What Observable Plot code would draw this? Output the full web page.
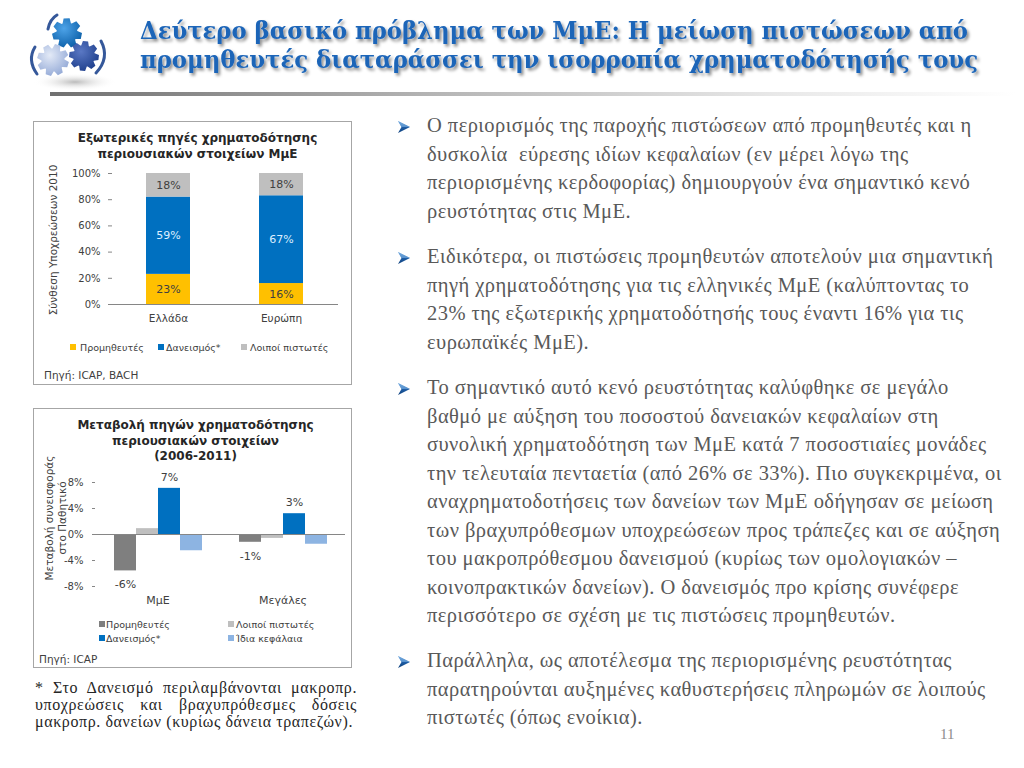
<!DOCTYPE html>
<html><head><meta charset="utf-8">
<script src="https://cdn.jsdelivr.net/npm/d3@7"></script>
<script src="https://cdn.jsdelivr.net/npm/@observablehq/plot@0.6"></script>
<style>
  html,body{margin:0;padding:0;background:#fff;}
  body{width:1024px;height:768px;position:relative;overflow:hidden;font-family:"DejaVu Sans",sans-serif;}
  .abs{position:absolute;}
  .box{position:absolute;border:1px solid #A6A6A6;box-sizing:border-box;background:#fff;}
  .ctitle{position:absolute;text-align:center;font:bold 12px "DejaVu Sans";color:#262626;line-height:15.5px;}
  .leg{position:absolute;font:9.5px "DejaVu Sans";color:#404040;white-space:nowrap;transform:translateY(-50%);}
  .sw{position:absolute;width:6px;height:6px;transform:translateY(-50%);}
  .src{position:absolute;font:10.5px "DejaVu Sans";color:#404040;transform:translateY(-50%);white-space:nowrap;}
  .ytitle{position:absolute;font:10.5px "DejaVu Sans";color:#404040;text-align:center;white-space:nowrap;line-height:12.5px;transform:translate(-50%,-50%) rotate(-90deg);}
  .para{position:absolute;left:427px;font:20.5px "Liberation Serif",serif;letter-spacing:0.45px;color:#595959;line-height:28.5px;white-space:pre;}
  .bul{position:absolute;left:397px;width:14px;height:14px;}
  .foot{position:absolute;left:35px;width:322px;font:16px "Liberation Serif",serif;letter-spacing:0.6px;color:#262626;line-height:17px;}
  .foot div{text-align:justify;text-align-last:justify;white-space:nowrap;}
  .foot div.last{text-align-last:left;}
</style>
</head><body>
<script>
// ---------- Chart 1 data: composition of liabilities 2010 ----------
const countries = ["Ελλάδα", "Ευρώπη"];
const sources1 = ["Προμηθευτές", "Δανεισμός*", "Λοιποί πιστωτές"];
const greeceShares = [23, 59, 18];
const europeShares = [16, 67, 18];
const yTicks1 = [0, 20, 40, 60, 80, 100];

// ---------- Chart 2 data: change in contribution 2006-2011 ----------
const groups2 = ["ΜμΕ", "Μεγάλες"];
const sources2 = ["Προμηθευτές", "Λοιποί πιστωτές", "Δανεισμός*", "Ίδια κεφάλαια"];
const smeChange = [-5.6, 0.9, 7.1, -2.5];
const largeChange = [-1.2, -0.6, 3.2, -1.5];
const labelledSources2 = ["Προμηθευτές", "Δανεισμός*"];
const yTicks2 = [-8, -4, 0, 4, 8];

// ---------- styles ----------
const colors1 = {"Προμηθευτές": "#FFC000", "Δανεισμός*": "#0070C0", "Λοιποί πιστωτές": "#BFBFBF"};
const colors2 = {"Προμηθευτές": "#7F7F7F", "Λοιποί πιστωτές": "#BFBFBF", "Δανεισμός*": "#0070C0", "Ίδια κεφάλαια": "#8DB4E2"};
const axisGrey = "#868686";
const textDark = "#404040";

const data1 = countries.flatMap((c, i) => sources1.map((s, j) => ({country: c, source: s, value: [greeceShares, europeShares][i][j]})));
const data2 = groups2.flatMap((g, i) => sources2.map((s, j) => ({group: g, source: s, value: [smeChange, largeChange][i][j]})));

const body = document.body;
function el(tag, cls, css, html) {
  const e = document.createElement(tag);
  if (cls) e.className = cls;
  if (css) Object.assign(e.style, css);
  if (html != null) e.innerHTML = html;
  body.appendChild(e);
  return e;
}

// ---------- Header: logo, title, rule ----------
function gearPath(cx, cy, ro, ri, n, rot) {
  const pts = [];
  for (let k = 0; k < n; k++) {
    const a = rot + (k / n) * 2 * Math.PI, w = Math.PI / n;
    pts.push([cx + ri * Math.cos(a - w * 0.9), cy + ri * Math.sin(a - w * 0.9)]);
    pts.push([cx + ro * Math.cos(a - w * 0.45), cy + ro * Math.sin(a - w * 0.45)]);
    pts.push([cx + ro * Math.cos(a + w * 0.45), cy + ro * Math.sin(a + w * 0.45)]);
    pts.push([cx + ri * Math.cos(a + w * 0.9), cy + ri * Math.sin(a + w * 0.9)]);
  }
  return "M" + pts.map(p => p.map(v => v.toFixed(1)).join(",")).join("L") + "Z";
}
const header = `
<svg width="1024" height="100" xmlns="http://www.w3.org/2000/svg">
 <defs>
  <filter id="sh" x="-5%" y="-30%" width="110%" height="170%"><feDropShadow dx="2" dy="2.5" stdDeviation="1.4" flood-color="#000" flood-opacity="0.45"/></filter>
  <radialGradient id="g1" cx="40%" cy="35%" r="70%"><stop offset="0" stop-color="#4DA3E8"/><stop offset="1" stop-color="#0B5FA8"/></radialGradient>
  <radialGradient id="g2" cx="40%" cy="35%" r="70%"><stop offset="0" stop-color="#5A78C4"/><stop offset="1" stop-color="#1E3F8C"/></radialGradient>
  <radialGradient id="g3" cx="40%" cy="35%" r="70%"><stop offset="0" stop-color="#E3EAF7"/><stop offset="1" stop-color="#93A9D6"/></radialGradient>
  <radialGradient id="gs" cx="50%" cy="50%" r="50%"><stop offset="0" stop-color="#bbb"/><stop offset="1" stop-color="#fff" stop-opacity="0"/></radialGradient>
 </defs>
 <ellipse cx="75" cy="82" rx="42" ry="9" fill="url(#gs)"/>
 <path d="${gearPath(67, 33, 15, 10.5, 7, 0.2)}" fill="url(#g1)"/>
 <path d="${gearPath(84, 56, 15, 11, 8, 0.1)}" fill="url(#g2)"/>
 <path d="${gearPath(53, 60, 16, 11.5, 8, 0.3)}" fill="url(#g3)"/>
 <path d="M35,47 Q27,60 37,74" fill="none" stroke="#35589A" stroke-width="3" stroke-linecap="round"/>
 <path d="M101,41 Q110,58 96,73" fill="none" stroke="#35589A" stroke-width="3" stroke-linecap="round"/>
 <path d="M48,29 Q50,19 57,15" fill="none" stroke="#35589A" stroke-width="3" stroke-linecap="round"/>
 <g font-family="DejaVu Serif" font-weight="bold" font-size="24" fill="#1D65B8" filter="url(#sh)">
  <text x="140" y="39" textLength="828" lengthAdjust="spacingAndGlyphs">Δεύτερο βασικό πρόβλημα των ΜμΕ: Η μείωση πιστώσεων από</text>
  <text x="140" y="68" textLength="838" lengthAdjust="spacingAndGlyphs">προμηθευτές διαταράσσει την ισορροπία χρηματοδότησής τους</text>
 </g>
</svg>`;
el("div", "abs", {left: "0px", top: "0px"}, header);
el("div", "abs", {left: "50px", top: "92px", width: "965px", height: "4px", background: "linear-gradient(to right,#707070,#b5b5b5 40%,#e8e8e8 75%,#ffffff)"});

// ---------- Chart 1 ----------
el("div", "box", {left: "33px", top: "121px", width: "319px", height: "264px"});
el("div", "ctitle", {left: "38px", top: "131px", width: "319px"}, "Εξωτερικές πηγές χρηματοδότησης<br>περιουσιακών στοιχείων ΜμΕ");

const chart1 = Plot.plot({
  width: 319, height: 172,
  marginTop: 13, marginBottom: 28, marginLeft: 79, marginRight: 14,
  style: {fontFamily: "DejaVu Sans", fontSize: "10px", background: "transparent", color: textDark},
  x: {domain: countries, paddingInner: 0.61, paddingOuter: 0.305, label: null},
  y: {domain: [0, 100], clamp: true, label: null},
  color: {type: "identity"},
  marks: [
    Plot.barY(data1, {x: "country", y: "value", z: "source", fill: d => colors1[d.source]}),
    Plot.text(data1, Plot.stackY({x: "country", y: "value", z: "source",
      text: d => d.value + "%", fontSize: 11,
      fill: d => d.source === "Δανεισμός*" ? "#DDEEFF" : textDark})),
    Plot.ruleY([0], {stroke: axisGrey}),
    Plot.axisY({ticks: yTicks1, tickFormat: d => d + "%", tickSize: 4, tickPadding: 8, line: true, stroke: axisGrey, fill: textDark, label: null}),
    Plot.axisX({tickSize: 0, tickPadding: 10, fontSize: 10.5, fill: textDark, label: null})
  ]
});
Object.assign(chart1.style, {position: "absolute", left: "33px", top: "160px"});
body.appendChild(chart1);
el("div", "ytitle", {left: "53px", top: "240px"}, "Σύνθεση Υποχρεώσεων 2010");

const leg1 = [[70, 80], [157.5, 166], [240.5, 250]];
sources1.forEach((s, i) => {
  el("span", "sw", {left: leg1[i][0] + "px", top: "347px", background: colors1[s]});
  el("span", "leg", {left: leg1[i][1] + "px", top: "347px"}, s);
});
el("div", "src", {left: "44px", top: "375px"}, "Πηγή: ICAP, BACH");

// ---------- Chart 2 ----------
el("div", "box", {left: "33px", top: "408px", width: "319px", height: "260px"});
el("div", "ctitle", {left: "36px", top: "418px", width: "319px"}, "Μεταβολή πηγών χρηματοδότησης<br>περιουσιακών στοιχείων<br>(2006-2011)");

const lab2 = data2.filter(d => labelledSources2.includes(d.source));
const chart2 = Plot.plot({
  width: 319, height: 140,
  marginTop: 12, marginBottom: 24, marginLeft: 62, marginRight: 7,
  style: {fontFamily: "DejaVu Sans", fontSize: "10px", background: "transparent", color: textDark},
  fx: {domain: groups2, paddingInner: 0, paddingOuter: 0, label: null},
  x: {domain: sources2, paddingInner: 0, paddingOuter: 0.778, axis: null},
  y: {domain: [-8, 8], label: null},
  color: {type: "identity"},
  marks: [
    Plot.barY(data2, {fx: "group", x: "source", y: "value", fill: d => colors2[d.source]}),
    Plot.ruleY([0], {stroke: axisGrey}),
    Plot.text(lab2.filter(d => d.value > 0), {fx: "group", x: "source", y: "value", text: d => Math.round(d.value) + "%", dy: -11, fontSize: 11, fill: textDark}),
    Plot.text(lab2.filter(d => d.value < 0), {fx: "group", x: "source", y: "value", text: d => Math.round(d.value) + "%", dy: 14, fontSize: 11, fill: textDark}),
    Plot.axisY({ticks: yTicks2, tickFormat: d => d + "%", tickSize: 3, tickPadding: 9, line: true, stroke: axisGrey, fill: textDark, label: null}),
    Plot.axisFx({anchor: "bottom", tickSize: 0, tickPadding: 10, fontSize: 11, fill: textDark, label: null})
  ]
});
Object.assign(chart2.style, {position: "absolute", left: "33px", top: "470px"});
body.appendChild(chart2);
el("div", "ytitle", {left: "55px", top: "518px"}, "Μεταβολή συνεισφοράς<br>στο Παθητικό");

const leg2 = [[99, 106, 623.5], [228, 236, 623.5], [99, 106, 637.5], [228, 236, 637.5]];
const legOrder2 = ["Προμηθευτές", "Λοιποί πιστωτές", "Δανεισμός*", "Ίδια κεφάλαια"];
legOrder2.forEach((s, i) => {
  el("span", "sw", {left: leg2[i][0] + "px", top: leg2[i][2] + "px", background: colors2[s]});
  el("span", "leg", {left: leg2[i][1] + "px", top: leg2[i][2] + "px"}, s);
});
el("div", "src", {left: "39px", top: "659px"}, "Πηγή: ICAP");

// ---------- Footnote ----------
el("div", "foot", {top: "679px"},
  "<div>* Στο Δανεισμό περιλαμβάνονται  μακροπρ.</div><div>υποχρεώσεις και βραχυπρόθεσμες δόσεις</div><div class='last'>μακροπρ. δανείων (κυρίως δάνεια τραπεζών).</div>");

// ---------- Right-hand text ----------
const paragraphs = [
  [111, ["Ο περιορισμός της παροχής πιστώσεων από προμηθευτές και η",
         "δυσκολία  εύρεσης ιδίων κεφαλαίων (εν μέρει λόγω της",
         "περιορισμένης κερδοφορίας) δημιουργούν ένα σημαντικό κενό",
         "ρευστότητας στις ΜμΕ."]],
  [242, ["Ειδικότερα, οι πιστώσεις προμηθευτών αποτελούν μια σημαντική",
         "πηγή χρηματοδότησης για τις ελληνικές ΜμΕ (καλύπτοντας το",
         "23% της εξωτερικής χρηματοδότησής τους έναντι 16% για τις",
         "ευρωπαϊκές ΜμΕ)."]],
  [373, ["Το σημαντικό αυτό κενό ρευστότητας καλύφθηκε σε μεγάλο",
         "βαθμό με αύξηση του ποσοστού δανειακών κεφαλαίων στη",
         "συνολική χρηματοδότηση των ΜμΕ κατά 7 ποσοστιαίες μονάδες",
         "την τελευταία πενταετία (από 26% σε 33%). Πιο συγκεκριμένα, οι",
         "αναχρηματοδοτήσεις των δανείων των ΜμΕ οδήγησαν σε μείωση",
         "των βραχυπρόθεσμων υποχρεώσεων προς τράπεζες και σε αύξηση",
         "του μακροπρόθεσμου δανεισμού (κυρίως των ομολογιακών –",
         "κοινοπρακτικών δανείων). Ο δανεισμός προ κρίσης συνέφερε",
         "περισσότερο σε σχέση με τις πιστώσεις προμηθευτών."]],
  [646, ["Παράλληλα, ως αποτέλεσμα της περιορισμένης ρευστότητας",
         "παρατηρούνται αυξημένες καθυστερήσεις πληρωμών σε λοιπούς",
         "πιστωτές (όπως ενοίκια)."]]
];
const arrowSvg = `<svg width="14" height="14" viewBox="0 0 14 14"><defs><linearGradient id="ag" x1="0" y1="0" x2="0" y2="1"><stop offset="0" stop-color="#5C9BD8"/><stop offset="0.5" stop-color="#1F5FA8"/><stop offset="1" stop-color="#0E3F7A"/></linearGradient></defs><path d="M1,1 L13,7 L1,13 L4.5,7 Z" fill="url(#ag)"/><path d="M1,1 L13,7 L4.5,7 Z" fill="#7FB2E5" opacity="0.6"/></svg>`;
paragraphs.forEach(([top, lines]) => {
  el("div", "bul", {top: (top + 7.5) + "px"}, arrowSvg);
  const p = el("div", "para", {top: top + "px"});
  p.textContent = lines.join("\n");
});
el("div", "abs", {left: "940px", top: "726px", font: "15px 'Liberation Serif',serif", color: "#8C8C8C"}, "11");
</script>
</body></html>
